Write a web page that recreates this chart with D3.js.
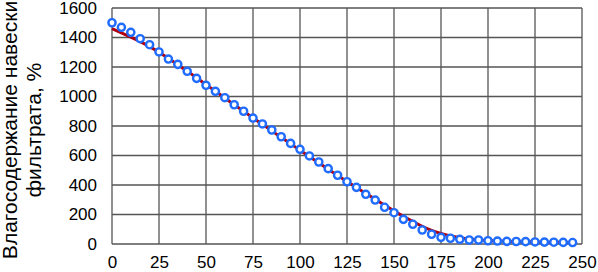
<!DOCTYPE html>
<html>
<head>
<meta charset="utf-8">
<script src="https://cdn.jsdelivr.net/npm/d3@7"></script>
<style>
  body { margin: 0; background: #fff; }
  text { font-family: "Liberation Sans", Arial, sans-serif; fill: #000; }
</style>
</head>
<body>
<svg id="chart"></svg>
<script>
var width = 598, height = 272

// time, min
var xs = [0, 5, 10, 15, 20, 25, 30, 35, 40, 45, 50, 55, 60, 65, 70, 75, 80, 85, 90, 95,
    100, 105, 110, 115, 120, 125, 130, 135, 140, 145, 150, 155, 160, 165, 170, 175, 180, 185, 190, 195,
    200, 205, 210, 215, 220, 225, 230, 235, 240, 245]
// measured moisture, %
var measured = [1500, 1469, 1435, 1392, 1351, 1302, 1254, 1218, 1171, 1123, 1076, 1035, 992, 944, 900, 854, 814, 773, 727, 682,
    642, 597, 556, 511, 466, 422, 384, 337, 298, 249, 212, 167, 134, 95, 66, 45, 39, 32, 27, 27,
    22, 20, 18, 17, 16, 14, 13, 12, 11, 10]
// fitted curve, %
var fitted = [1460, 1432, 1403, 1372, 1338, 1300, 1258, 1216, 1172, 1127, 1081, 1036, 990, 945, 900, 855, 811, 767, 723, 679,
    636, 593, 550, 507, 465, 424, 383, 343, 303, 263, 225, 188, 153, 120, 92, 71, 55, 43, 34, 28,
    23, 20, 18, 16, 15, 14, 13, 12, 11, 10]

var xTicks = [0, 25, 50, 75, 100, 125, 150, 175, 200, 225, 250]
var yTicks = [0, 200, 400, 600, 800, 1000, 1200, 1400, 1600]
var yLabel = ["Влагосодержание навески", "фильтрата, %"]

var margin = {left: 112, right: 16, top: 8, bottom: 28}

var svg = d3.select("#chart")
    .attr("width", width)
    .attr("height", height)

var x = d3.scaleLinear().domain([0, 250]).range([margin.left, width - margin.right])
var y = d3.scaleLinear().domain([0, 1600]).range([height - margin.bottom, margin.top])

// grid
svg.append("g")
    .selectAll("line")
    .data(xTicks)
    .enter().append("line")
        .attr("x1", d => x(d)).attr("x2", d => x(d))
        .attr("y1", y(0)).attr("y2", y(1600))
        .attr("stroke", "#555")
        .attr("stroke-width", 1.3)
svg.append("g")
    .selectAll("line")
    .data(yTicks)
    .enter().append("line")
        .attr("y1", d => y(d)).attr("y2", d => y(d))
        .attr("x1", x(0)).attr("x2", x(250))
        .attr("stroke", "#555")
        .attr("stroke-width", 1.3)

// axes
var yAxis = svg.append("g")
    .attr("transform", "translate(" + x(0) + ",0)")
    .call(d3.axisLeft(y).tickValues(yTicks).tickFormat(d3.format("d")).tickSize(0).tickPadding(15))
yAxis.select(".domain").remove()
yAxis.selectAll("text").style("font-size", "17px")

var xAxis = svg.append("g")
    .attr("transform", "translate(0," + y(0) + ")")
    .call(d3.axisBottom(x).tickValues(xTicks).tickFormat(d3.format("d")).tickSize(0).tickPadding(12))
xAxis.select(".domain").remove()
xAxis.selectAll("text").style("font-size", "17px")

// y title
svg.append("g")
    .selectAll("text")
    .data(yLabel)
    .enter().append("text")
        .attr("transform", (d, i) => "translate(" + (17 + i * 24) + "," + 130 + ") rotate(-90)")
        .attr("text-anchor", "middle")
        .style("font-size", "21px")
        .text(d => d)

// fitted line
var line = d3.line()
    .x((d, i) => x(xs[i]))
    .y(d => y(d))
    .curve(d3.curveMonotoneX)
svg.append("path")
    .datum(fitted)
    .attr("d", line)
    .attr("fill", "none")
    .attr("stroke", "#b00010")
    .attr("stroke-width", 3)

// measured points
svg.append("g")
    .selectAll("circle")
    .data(measured)
    .enter().append("circle")
        .attr("cx", (d, i) => x(xs[i]))
        .attr("cy", d => y(d))
        .attr("r", 3.6)
        .attr("fill", "#fff")
        .attr("stroke", "#1f6cff")
        .attr("stroke-width", 2.4)
</script>
</body>
</html>
